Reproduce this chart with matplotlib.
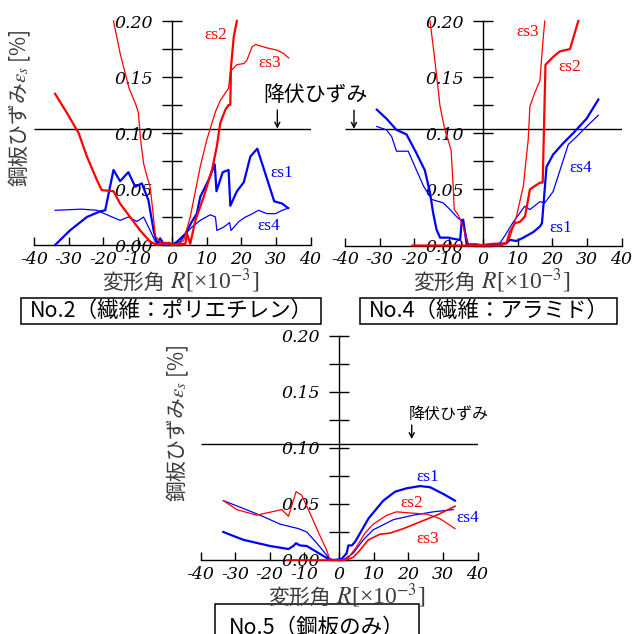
import numpy as np
import matplotlib
matplotlib.use("Agg")
import matplotlib.pyplot as plt
from matplotlib.patches import Rectangle

plt.rcParams['axes.unicode_minus'] = False
plt.rcParams['mathtext.fontset'] = 'stix'

W, H = 643, 634
RED = '#ff0000'
BLUE = '#0000ff'
CJK = ['Noto Sans CJK JP', 'DejaVu Sans']

# ---- common axis settings ----
x_ticks = [-40, -30, -20, -10, 0, 10, 20, 30, 40]
x_ticklabels = ['-40', '-30', '-20', '-10', '0', '10', '20', '30', '40']
y_ticks = [0.0, 0.05, 0.10, 0.15, 0.20]
y_ticklabels = ['0.00', '0.05', '0.10', '0.15', '0.20']
y_minor = [0.025, 0.075, 0.125, 0.175]
yield_strain = 0.104

# ---- No.2 (polyethylene fibre) ----
n2_s1_x = [-33.9, -29.6, -24.7, -20.9, -19.4, -18.0, -17.0, -15.1, -12.7, -10.7, -8.8, -6.9, -5.4, -4.4,
           -3.5, -2.5, -1.0, 0.0, 1.4, 3.8, 5.7, 7.1, 8.1, 10.5, 12.3, 12.8, 14.6, 16.3, 16.8, 18.7,
           20.7, 22.6, 24.6, 26.9, 29.5, 31.8, 33.5]
n2_s1_y = [0.000, 0.013, 0.025, 0.030, 0.031, 0.052, 0.067, 0.057, 0.065, 0.052, 0.055, 0.040, 0.013, 0.001,
           0.006, 0.001, 0.002, 0.000, 0.003, 0.010, 0.021, 0.028, 0.043, 0.058, 0.072, 0.048, 0.065, 0.067,
           0.035, 0.048, 0.056, 0.079, 0.086, 0.064, 0.039, 0.037, 0.033]
n2_s2_x = [-33.9, -30.5, -27.1, -24.7, -21.8, -20.4, -17.0, -15.1, -12.2, -9.3, -6.4, -4.4, -2.0, 0.0,
           2.0, 3.8, 4.3, 5.2, 6.7, 9.1, 11.5, 12.9, 13.9, 15.4, 16.3, 16.8, 17.0, 17.8, 18.7]
n2_s2_y = [0.135, 0.118, 0.100, 0.079, 0.058, 0.049, 0.048, 0.037, 0.025, 0.013, 0.003, 0.000, 0.002, 0.000,
           0.001, 0.001, 0.010, 0.001, 0.022, 0.043, 0.067, 0.088, 0.109, 0.121, 0.125, 0.125, 0.159, 0.186,
           0.200]
n2_s3_x = [-17.0, -15.0, -12.5, -10.5, -9.8, -9.2, -8.3, -7.2, -6.4, -5.6, -4.9, -3.0, -1.0, 1.0, 3.3,
           5.2, 8.1, 10.0, 12.5, 13.9, 16.3, 16.8, 18.7, 20.7, 21.6, 23.1, 24.1, 27.4, 30.3, 32.2, 33.7]
n2_s3_y = [0.200, 0.170, 0.140, 0.125, 0.118, 0.095, 0.073, 0.060, 0.052, 0.030, 0.008, 0.001, 0.002, 0.000,
           0.004, 0.025, 0.070, 0.094, 0.119, 0.129, 0.140, 0.155, 0.161, 0.162, 0.165, 0.177, 0.179, 0.176,
           0.174, 0.171, 0.167]
n2_s4_x = [-33.9, -26.2, -21.8, -18.9, -15.1, -12.7, -10.2, -8.3, -6.4, -4.9, -3.0, -1.0, 0.0, 2.3, 4.7,
           5.7, 8.1, 11.0, 12.5, 12.9, 14.9, 16.6, 17.0, 19.3, 21.2, 22.6, 25.0, 27.4, 29.9, 31.8, 33.7]
n2_s4_y = [0.031, 0.032, 0.031, 0.027, 0.022, 0.025, 0.021, 0.025, 0.013, 0.003, 0.002, 0.001, 0.000, 0.003,
           0.013, 0.016, 0.022, 0.027, 0.025, 0.013, 0.016, 0.020, 0.013, 0.021, 0.025, 0.027, 0.031, 0.028,
           0.028, 0.031, 0.033]

# ---- No.4 (aramid fibre) ----
n4_s1_x = [-30.8, -28.0, -25.1, -22.2, -19.3, -16.9, -15.4, -14.5, -13.5, -12.5, -10.0, -8.7, -6.7, -6.2,
           -5.8, -5.3, -4.8, -2.0, 0.0, 3.0, 6.7, 7.7, 9.6, 11.6, 14.5, 16.4, 17.0, 18.3, 20.2, 23.1, 26.0,
           29.9, 33.3]
n4_s1_y = [0.121, 0.113, 0.103, 0.099, 0.082, 0.067, 0.047, 0.029, 0.014, 0.007, 0.007, 0.006, 0.005, 0.022,
           0.023, 0.012, 0.001, 0.001, 0.000, 0.001, 0.002, 0.005, 0.004, 0.007, 0.012, 0.017, 0.020, 0.070,
           0.081, 0.091, 0.100, 0.113, 0.130]
n4_s2_x = [-20.5, -12.0, -5.0, 0.0, 4.8, 6.7, 7.7, 9.2, 10.6, 12.1, 13.5, 16.4, 17.2, 18.0, 20.2, 22.2,
           25.1, 27.5]
n4_s2_y = [0.000, 0.000, 0.000, 0.000, 0.000, 0.002, 0.012, 0.020, 0.021, 0.026, 0.050, 0.056, 0.056, 0.161,
           0.168, 0.173, 0.175, 0.200]
n4_s3_x = [-15.4, -14.0, -12.5, -11.1, -9.3, -8.7, -8.4, -7.2, -5.8, -4.8, -4.0, 0.0, 3.0, 6.3, 7.7, 9.6,
           11.6, 13.0, 13.5, 14.9, 16.4, 17.3, 17.8]
n4_s3_y = [0.200, 0.165, 0.124, 0.103, 0.085, 0.053, 0.032, 0.027, 0.017, 0.005, 0.000, 0.001, 0.002, 0.002,
           0.007, 0.026, 0.053, 0.094, 0.124, 0.136, 0.147, 0.183, 0.200]
n4_s4_x = [-30.8, -28.0, -26.5, -25.1, -21.7, -19.3, -17.3, -14.9, -11.6, -9.6, -7.2, -6.3, -5.3, -4.3,
           0.0, 4.8, 6.3, 8.7, 10.6, 12.0, 13.5, 16.4, 17.8, 20.2, 22.2, 24.6, 27.0, 29.9, 33.3]
n4_s4_y = [0.106, 0.103, 0.097, 0.084, 0.084, 0.067, 0.053, 0.041, 0.038, 0.032, 0.024, 0.023, 0.014, 0.000,
           0.000, 0.002, 0.009, 0.021, 0.029, 0.035, 0.032, 0.039, 0.038, 0.048, 0.067, 0.090, 0.097, 0.106,
           0.116]

# ---- No.5 (steel plate only) ----
n5_s1_x = [-33.4, -27.6, -19.9, -14.6, -13.2, -12.4, -11.3, -9.3, -7.4, -5.0, -3.1, -1.5, 0.8, 2.2, 2.7,
           3.7, 4.6, 6.1, 8.5, 10.9, 12.8, 16.2, 19.5, 23.4, 26.3, 30.1, 33.5]
n5_s1_y = [0.025, 0.018, 0.0125, 0.0098, 0.0125, 0.015, 0.013, 0.0125, 0.009, 0.0045, 0.001, 0.000, 0.001,
           0.006, 0.013, 0.013, 0.016, 0.024, 0.037, 0.046, 0.053, 0.061, 0.064, 0.066, 0.065, 0.059, 0.053]
n5_s2_x = [-33.4, -29.5, -23.8, -16.5, -14.6, -12.4, -10.8, -8.4, -6.0, -3.6, -3.1, -2.5, 1.2, 2.7, 5.1,
           7.5, 9.9, 11.8, 13.8, 16.6, 20.5, 25.3, 29.1, 33.5]
n5_s2_y = [0.053, 0.045, 0.040, 0.045, 0.039, 0.061, 0.058, 0.042, 0.025, 0.009, 0.0045, 0.000, 0.000, 0.002,
           0.012, 0.024, 0.032, 0.036, 0.040, 0.043, 0.042, 0.041, 0.037, 0.028]
n5_s3_x = [-15.0, -8.0, -3.5, 0.0, 2.0, 4.1, 6.1, 8.5, 11.8, 14.7, 18.6, 23.4, 28.2, 33.5]
n5_s3_y = [0.000, 0.000, 0.000, 0.000, 0.000, 0.0024, 0.009, 0.018, 0.023, 0.024, 0.028, 0.034, 0.040, 0.048]
n5_s4_x = [-33.4, -27.6, -22.8, -17.0, -11.7, -9.3, -6.4, -3.6, -2.5, 1.2, 4.1, 7.0, 9.9, 15.7, 21.4,
           27.2, 33.0]
n5_s4_y = [0.053, 0.046, 0.040, 0.032, 0.028, 0.025, 0.015, 0.0045, 0.000, 0.000, 0.006, 0.018, 0.027, 0.036,
           0.040, 0.043, 0.045]

THICK, THIN = 1.6, 0.9


def fig_xy(px, py):
    return px / W, 1 - py / H


def make_axes(fig, x_left, x_right, y_top, y_bottom):
    ax = fig.add_axes([x_left / W, 1 - y_bottom / H, (x_right - x_left) / W, (y_bottom - y_top) / H])
    ax.patch.set_visible(False)
    ax.set_xlim(-40, 40)
    ax.set_ylim(0, 0.2)
    for side in ('top', 'right'):
        ax.spines[side].set_visible(False)
    ax.spines['left'].set_position(('data', 0))
    ax.spines['bottom'].set_position(('data', 0))
    for side in ('left', 'bottom'):
        ax.spines[side].set_linewidth(1.0)
    ax.set_xticks(x_ticks)
    ax.set_xticklabels(x_ticklabels, fontfamily='DejaVu Serif', fontstyle='italic', fontsize=12.5)
    ax.set_yticks(y_ticks)
    ax.set_yticklabels(y_ticklabels, fontfamily='DejaVu Serif', fontstyle='italic', fontsize=12.5)
    ax.set_yticks(y_minor, minor=True)
    ax.tick_params(axis='x', direction='in', length=6, width=1, pad=4, colors='black')
    ax.tick_params(axis='y', which='both', direction='inout', length=14.5, width=1, pad=6.5)
    ax.hlines(yield_strain, -40, 40, color='black', lw=1.0, zorder=1)
    return ax


def series(ax, x, y, color, lw):
    ax.plot(x, y, color=color, lw=lw, clip_on=False, zorder=3, solid_joinstyle='round')


def eps_label(ax, x, y, idx, color):
    ax.text(x, y, 'ε' + 's' + idx, color=color, fontsize=12.5, fontfamily='Liberation Serif',
            ha='center', va='center', clip_on=False)


def yield_arrow(ax, x, y0, y1):
    ax.annotate('', xy=(x, y1), xytext=(x, y0), annotation_clip=False,
                arrowprops=dict(arrowstyle='->,head_length=0.35,head_width=0.18', lw=1.0,
                                color='black', shrinkA=0, shrinkB=0))


def y_label(fig, px, py):
    fig.text(*fig_xy(px, py), '鋼板ひずみ$\\varepsilon_s$ [%]', rotation=90, ha='center', va='center',
             fontsize=15, family=CJK, color='#3c3c3c')


def x_label(fig, px, py):
    # Japanese words and the serif unit part are set as two adjoining texts on one baseline
    join = px - 11
    base = py + 7
    fig.text(*fig_xy(join, base), '変形角', ha='right', va='baseline',
             fontsize=15, family=CJK, color='#3c3c3c')
    fig.text(*fig_xy(join, base), ' $R$[×10$^{-3}$]', ha='left', va='baseline',
             fontsize=17, family='Liberation Serif', color='#3c3c3c')


def caption(fig, x0, x1, y0, y1, text, ty):
    fig.patches.append(Rectangle(fig_xy(x0, y1), (x1 - x0) / W, (y1 - y0) / H, transform=fig.transFigure,
                                 fill=False, ec='black', lw=1.1))
    fig.text(*fig_xy((x0 + x1) / 2, ty), text, ha='center', va='center', fontsize=15.5, family=CJK,
             color='black')


fig = plt.figure(figsize=(W / 100, H / 100), dpi=100)

# No.2
ax1 = make_axes(fig, 34, 310.5, 21, 245)
series(ax1, n2_s4_x, n2_s4_y, BLUE, THIN)
series(ax1, n2_s1_x, n2_s1_y, BLUE, THICK)
series(ax1, n2_s3_x, n2_s3_y, RED, THIN)
series(ax1, n2_s2_x, n2_s2_y, RED, THICK)
eps_label(ax1, 12.5, 0.1875, '2', RED)
eps_label(ax1, 28.1, 0.1625, '3', RED)
eps_label(ax1, 31.6, 0.064, '1', BLUE)
eps_label(ax1, 27.8, 0.017, '4', BLUE)
yield_arrow(ax1, 30.4, 0.1205, yield_strain)
y_label(fig, 20, 108)
x_label(fig, 176, 282)
caption(fig, 21, 321, 298, 324, 'No.2（繊維：ポリエチレン）', 311)

# No.4
ax2 = make_axes(fig, 345, 621.5, 21, 245.5)
series(ax2, n4_s4_x, n4_s4_y, BLUE, THIN)
series(ax2, n4_s1_x, n4_s1_y, BLUE, THICK)
series(ax2, n4_s3_x, n4_s3_y, RED, THIN)
series(ax2, n4_s2_x, n4_s2_y, RED, THICK)
eps_label(ax2, 13.0, 0.190, '3', RED)
eps_label(ax2, 25.1, 0.159, '2', RED)
eps_label(ax2, 28.2, 0.069, '4', BLUE)
eps_label(ax2, 22.5, 0.016, '1', BLUE)
yield_arrow(ax2, -37.4, 0.1205, yield_strain)
x_label(fig, 487, 282)
caption(fig, 360, 617, 298, 324, 'No.4（繊維：アラミド）', 311)

fig.text(*fig_xy(315, 95), '降伏ひずみ', ha='center', va='center', fontsize=15, family=CJK, color='black')

# No.5
ax3 = make_axes(fig, 200.5, 477.5, 336, 560)
series(ax3, n5_s4_x, n5_s4_y, BLUE, THIN)
series(ax3, n5_s1_x, n5_s1_y, BLUE, THICK)
series(ax3, n5_s2_x, n5_s2_y, RED, THIN)
series(ax3, n5_s3_x, n5_s3_y, RED, 1.2)
eps_label(ax3, 25.7, 0.074, '1', BLUE)
eps_label(ax3, 21.1, 0.051, '2', RED)
eps_label(ax3, 37.3, 0.0375, '4', BLUE)
eps_label(ax3, 25.7, 0.019, '3', RED)
yield_arrow(ax3, 21.0, 0.1205, yield_strain + 0.004)
ax3.text(20.0, 0.1295, '降伏ひずみ', ha='left', va='center', fontsize=11.5, family=CJK, color='black')
y_label(fig, 178, 423)
x_label(fig, 342, 597)
caption(fig, 215, 419, 604, 660, 'No.5（鋼板のみ）', 628)

fig.savefig('out.png', dpi=100)
